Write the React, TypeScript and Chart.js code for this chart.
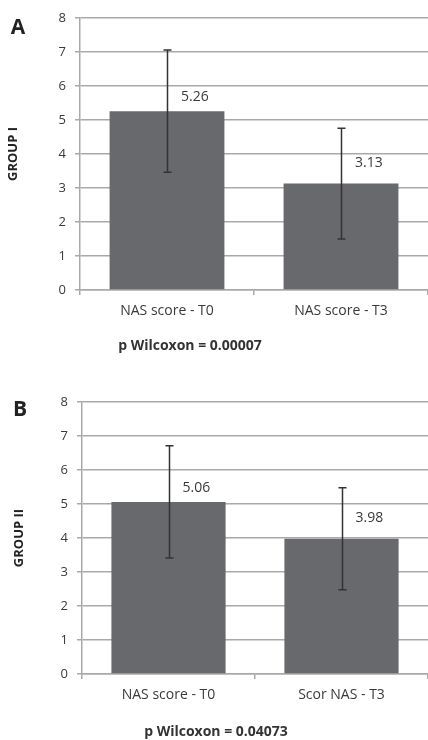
import React, { useEffect, useRef } from "react";
import { Chart, registerables } from "chart.js";

Chart.register(...registerables);

// ---- Data ----
const categoriesA = ["NAS score - T0", "NAS score - T3"];
const valuesA = [5.26, 3.13];
const errorsA = [1.8, 1.63];

const categoriesB = ["NAS score - T0", "Scor NAS - T3"];
const valuesB = [5.06, 3.98];
const errorsB = [1.65, 1.5];

const yTicks = [0, 1, 2, 3, 4, 5, 6, 7, 8];

const FONT = "'Open Sans', 'DejaVu Sans', sans-serif";
const BAR_COLOR = "#68696d";
const GRID_COLOR = "#a9a9a9";
const TEXT_COLOR = "#3a3a3a";

const errorBarPlugin = {
  id: "errorBars",
  afterDatasetsDraw(chart: any, _args: any, opts: any) {
    const { ctx } = chart;
    const meta = chart.getDatasetMeta(0);
    const yScale = chart.scales.y;
    const vals = chart.data.datasets[0].data as number[];
    const errs = opts.errors as number[];
    ctx.save();
    meta.data.forEach((bar: any, i: number) => {
      const x = Math.round(bar.x) + 0.5;
      const yTop = yScale.getPixelForValue(vals[i] + errs[i]);
      const yBot = yScale.getPixelForValue(vals[i] - errs[i]);
      ctx.strokeStyle = "#333333";
      ctx.lineWidth = 1.5;
      ctx.beginPath();
      ctx.moveTo(x, yTop);
      ctx.lineTo(x, yBot);
      ctx.moveTo(x - 4, yTop);
      ctx.lineTo(x + 4, yTop);
      ctx.moveTo(x - 4, yBot);
      ctx.lineTo(x + 4, yBot);
      ctx.stroke();
      ctx.fillStyle = TEXT_COLOR;
      ctx.font = `14px ${FONT}`;
      ctx.textAlign = "left";
      ctx.textBaseline = "middle";
      ctx.fillText(vals[i].toFixed(2), bar.x + opts.labelDx, bar.y - opts.labelDy[i]);
    });
    ctx.restore();
  },
};

type PanelProps = {
  top: number;
  height: number;
  areaTop: number;
  areaLeft: number;
  xAxisHeight: number;
  categories: string[];
  values: number[];
  errors: number[];
  yTitle: string;
  yTitlePad: number;
};

function Panel(p: PanelProps) {
  const ref = useRef<HTMLCanvasElement | null>(null);
  useEffect(() => {
    if (!ref.current) return;
    const chart = new Chart(ref.current, {
      type: "bar",
      data: {
        labels: p.categories,
        datasets: [
          {
            data: p.values,
            backgroundColor: BAR_COLOR,
            borderWidth: 0,
            categoryPercentage: 1,
            barPercentage: 0.66,
          },
        ],
      },
      options: {
        responsive: false,
        animation: false,
        devicePixelRatio: 1,
        layout: { padding: { top: p.areaTop, left: 0, right: 0, bottom: 0 } },
        plugins: {
          legend: { display: false },
          tooltip: { enabled: false },
          // @ts-ignore
          errorBars: { errors: p.errors, labelDx: 14, labelDy: [14, 21] },
        },
        scales: {
          x: {
            offset: true,
            grid: {
              offset: true,
              drawOnChartArea: false,
              drawTicks: true,
              tickLength: 5,
              color: GRID_COLOR,
              lineWidth: 1.5,
            },
            border: { display: true, color: GRID_COLOR, width: 1.5 },
            ticks: {
              color: TEXT_COLOR,
              font: { family: FONT, size: 14 },
              padding: 8,
              maxRotation: 0,
            },
            afterFit: (scale: any) => {
              scale.height = p.xAxisHeight;
            },
          },
          y: {
            min: yTicks[0],
            max: yTicks[yTicks.length - 1],
            ticks: {
              stepSize: 1,
              color: TEXT_COLOR,
              font: { family: FONT, size: 13 },
              padding: 9,
            },
            grid: {
              color: GRID_COLOR,
              lineWidth: 1.5,
              drawTicks: true,
              tickLength: 5,
            },
            border: { display: true, color: GRID_COLOR, width: 1.5 },
            title: {
              display: true,
              text: p.yTitle,
              color: "#222222",
              font: { family: FONT, size: 13, weight: "bold" },
              padding: { top: p.yTitlePad, bottom: 0 },
            },
            afterFit: (scale: any) => {
              scale.width = p.areaLeft;
            },
          },
        },
      },
      plugins: [errorBarPlugin],
    });
    return () => chart.destroy();
  }, []);
  return (
    <canvas
      ref={ref}
      width={428}
      height={p.height}
      style={{ position: "absolute", left: 0, top: p.top, width: 428, height: p.height, display: "block" }}
    />
  );
}

const letterStyle: React.CSSProperties = {
  position: "absolute",
  fontFamily: FONT,
  fontWeight: "bold",
  fontSize: 21,
  color: "#222",
  lineHeight: "21px",
  transform: "translate(-50%, -50%)",
};

const pStyle: React.CSSProperties = {
  position: "absolute",
  fontFamily: FONT,
  fontWeight: "bold",
  fontSize: 14,
  color: "#333",
  lineHeight: "16px",
  whiteSpace: "nowrap",
  transform: "translate(-50%, -50%)",
};

export default function App() {
  return (
    <div style={{ position: "absolute", left: 0, top: 0, width: 428, height: 740, background: "#fff", overflow: "hidden" }}>
      <Panel
        top={0}
        height={360}
        areaTop={18}
        areaLeft={80}
        xAxisHeight={70}
        categories={categoriesA}
        values={valuesA}
        errors={errorsA}
        yTitle="GROUP I"
        yTitlePad={5}
      />
      <Panel
        top={360}
        height={380}
        areaTop={42}
        areaLeft={82}
        xAxisHeight={66}
        categories={categoriesB}
        values={valuesB}
        errors={errorsB}
        yTitle="GROUP II"
        yTitlePad={11}
      />
      <div style={{ ...letterStyle, left: 18, top: 26 }}>A</div>
      <div style={{ ...letterStyle, left: 20, top: 408 }}>B</div>
      <div style={{ ...pStyle, left: 190, top: 345 }}>p Wilcoxon = 0.00007</div>
      <div style={{ ...pStyle, left: 216, top: 731 }}>p Wilcoxon = 0.04073</div>
    </div>
  );
}
